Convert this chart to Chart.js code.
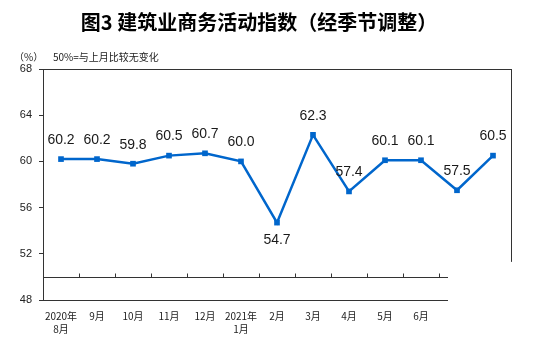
<!DOCTYPE html>
<html>
<head>
<meta charset="utf-8">
<script src="https://cdn.jsdelivr.net/npm/chart.js@4/dist/chart.umd.min.js"></script>
<style>
  html, body { margin: 0; padding: 0; background: #fff; }
  #wrap { width: 553px; height: 343px; position: relative; }
</style>
</head>
<body>
<div id="wrap"><canvas id="pmi"></canvas></div>
<script>
// Construction business activity index, seasonally adjusted
const months = [
  ["2020年", "8月"], "9月", "10月", "11月", "12月", ["2021年", "1月"],
  "2月", "3月", "4月", "5月", "6月", "", ""
];
const indexValues = [60.2, 60.2, 59.8, 60.5, 60.7, 60.0, 54.7, 62.3, 57.4, 60.1, 60.1, 57.5, 60.5];
const yTicks = [48, 52, 56, 60, 64, 68];

const TEXT = "#222222";
const AXIS = "#333333";
const BLUE = "#0066cc";

// title, unit note and the broken-axis frame around the plot
const framePlugin = {
  id: "frame",
  beforeDraw(chart) {
    const ctx = chart.ctx;
    ctx.save();
    ctx.fillStyle = "#fff";
    ctx.fillRect(0, 0, chart.width, chart.height);
    ctx.fillStyle = "#000";
    ctx.textAlign = "center";
    ctx.textBaseline = "middle";
    ctx.font = "bold 20px 'Noto Sans CJK SC'";
    ctx.fillText("图3 建筑业商务活动指数（经季节调整）", 259, 22);
    ctx.fillStyle = TEXT;
    ctx.textAlign = "left";
    ctx.font = "10px 'Noto Sans CJK SC'";
    ctx.fillText("（%）", 14, 57);
    ctx.fillText("50%=与上月比较无变化", 53, 57);
    ctx.restore();
  },
  afterDraw(chart) {
    const ctx = chart.ctx;
    const x = chart.scales.x, y = chart.scales.y;
    const area = chart.chartArea;
    const lineEnd = x.getPixelForValue(10.75);
    const y50 = Math.round(y.getPixelForValue(50)) + 0.5;
    const y48 = Math.round(y.getPixelForValue(48)) + 0.5;
    ctx.save();
    ctx.strokeStyle = AXIS;
    ctx.lineWidth = 1;
    ctx.beginPath();
    // top border
    ctx.moveTo(area.left, Math.round(area.top) + 0.5);
    ctx.lineTo(area.right, Math.round(area.top) + 0.5);
    // right border stops short of the axis break
    ctx.moveTo(Math.round(area.right) + 0.5, area.top);
    ctx.lineTo(Math.round(area.right) + 0.5, y.getPixelForValue(51.3));
    // category axis at 50 with upward ticks
    ctx.moveTo(area.left, y50);
    ctx.lineTo(lineEnd, y50);
    for (let i = 0; i < 11; i++) {
      const px = Math.round(x.getPixelForValue(i + 0.5)) + 0.5;
      ctx.moveTo(px, y50);
      ctx.lineTo(px, y50 - 4);
    }
    // bottom line at 48
    ctx.moveTo(area.left, y48);
    ctx.lineTo(lineEnd, y48);
    ctx.stroke();
    ctx.restore();
  },
  afterDatasetsDraw(chart) {
    const ctx = chart.ctx;
    const pts = chart.getDatasetMeta(0).data;
    const values = chart.data.datasets[0].data;
    const lowest = Math.min(...values);
    ctx.save();
    ctx.fillStyle = "#1a1a1a";
    ctx.font = "14px 'Liberation Sans', Arial";
    ctx.textAlign = "center";
    ctx.textBaseline = "middle";
    pts.forEach((p, i) => {
      const dy = values[i] === lowest ? 18 : -19;
      ctx.fillText(values[i].toFixed(1), p.x, p.y + dy);
    });
    ctx.restore();
  }
};

new Chart(document.getElementById("pmi"), {
  type: "line",
  data: {
    labels: months,
    datasets: [{
      data: indexValues,
      borderColor: BLUE,
      backgroundColor: BLUE,
      borderWidth: 2.5,
      pointStyle: "rect",
      pointRadius: 4,
      pointBorderWidth: 0,
      tension: 0,
      clip: false
    }]
  },
  options: {
    responsive: true,
    maintainAspectRatio: false,
    animation: false,
    events: [],
    layout: { padding: { left: 0, right: 42, top: 69, bottom: 0 } },
    plugins: {
      legend: { display: false },
      tooltip: { enabled: false }
    },
    scales: {
      x: {
        offset: true,
        grid: { display: false, drawTicks: false, offset: true },
        border: { display: false },
        afterFit(scale) { scale.height = 43; },
        ticks: {
          padding: 10,
          autoSkip: false,
          maxRotation: 0,
          color: TEXT,
          font: { family: "'Noto Sans CJK SC'", size: 10, lineHeight: 1.25 }
        }
      },
      y: {
        min: 48,
        max: 68,
        afterBuildTicks(scale) { scale.ticks = yTicks.map(v => ({ value: v })); },
        afterFit(scale) { scale.width = 43; },
        grid: { drawOnChartArea: false, tickLength: 4, color: AXIS },
        border: { color: AXIS },
        ticks: {
          padding: 7,
          color: TEXT,
          font: { family: "'Liberation Sans', Arial", size: 11 }
        }
      }
    }
  },
  plugins: [framePlugin]
});
</script>
</body>
</html>
